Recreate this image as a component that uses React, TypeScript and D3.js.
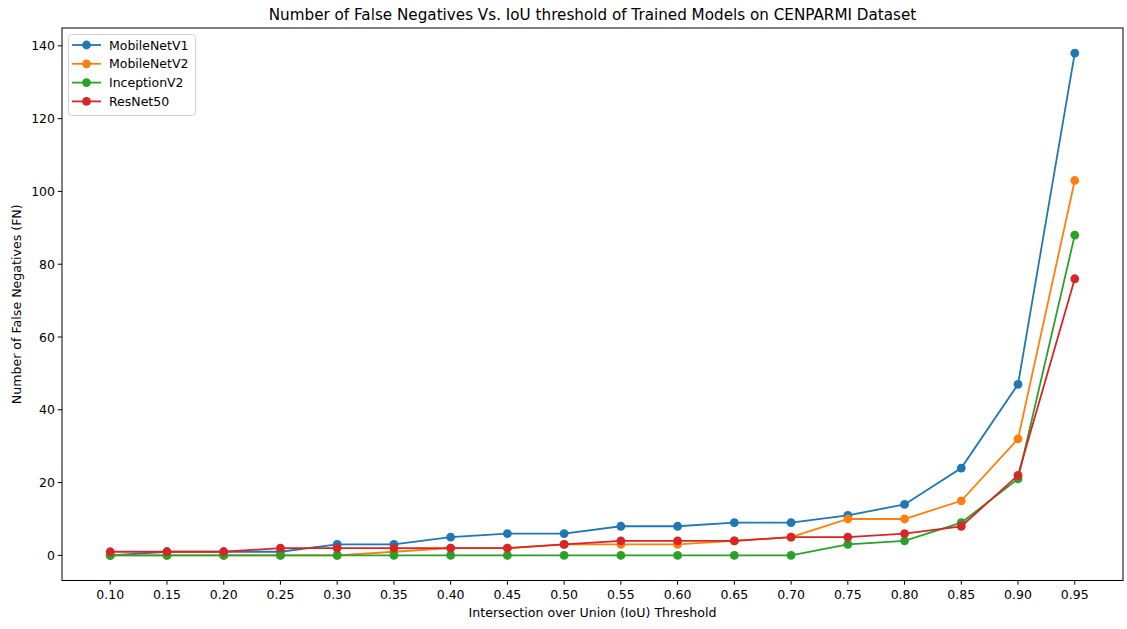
import React from "react";
import * as d3 from "d3";

const thresholds = [0.10, 0.15, 0.20, 0.25, 0.30, 0.35, 0.40, 0.45, 0.50, 0.55, 0.60, 0.65, 0.70, 0.75, 0.80, 0.85, 0.90, 0.95];
const mobileNetV1 = [0, 1, 1, 1, 3, 3, 5, 6, 6, 8, 8, 9, 9, 11, 14, 24, 47, 138];
const mobileNetV2 = [0, 0, 0, 0, 0, 1, 2, 2, 3, 3, 3, 4, 5, 10, 10, 15, 32, 103];
const inceptionV2 = [0, 0, 0, 0, 0, 0, 0, 0, 0, 0, 0, 0, 0, 3, 4, 9, 21, 88];
const resNet50 = [1, 1, 1, 2, 2, 2, 2, 2, 3, 4, 4, 4, 5, 5, 6, 8, 22, 76];
const seriesNames = ["MobileNetV1", "MobileNetV2", "InceptionV2", "ResNet50"];
const seriesColors = ["#1f77b4", "#ff7f0e", "#2ca02c", "#d62728"];
const yTicks = [0, 20, 40, 60, 80, 100, 120, 140];

const W = 1127, H = 629;
const L = 62, R = 1123, T = 28, B = 580.5;
const FONT = "'DejaVu Sans', sans-serif";
const TICK_FS = 12.5;
const LABEL_FS = 12.6;

export default function App() {
  const series = [mobileNetV1, mobileNetV2, inceptionV2, resNet50];
  const x = d3.scaleLinear().domain([0.0575, 0.9925]).range([L, R]);
  const y = d3.scaleLinear().domain([-6.9, 144.9]).range([B, T]);
  const line = d3.line<number>().x((_, i) => x(thresholds[i])).y((d) => y(d));

  return (
    <svg width={W} height={H} style={{ position: "absolute", left: 0, top: 0, background: "#fff" }} fontFamily={FONT}>
      <rect x={0} y={0} width={W} height={H} fill="#fff" />
      <text x={(L + R) / 2} y={20} textAnchor="middle" fontSize={15.2} fill="#000">
        Number of False Negatives Vs. IoU threshold of Trained Models on CENPARMI Dataset
      </text>
      {series.map((s, k) => (
        <g key={k}>
          <path d={line(s) || ""} fill="none" stroke={seriesColors[k]} strokeWidth={1.8} />
          {s.map((v, i) => (
            <circle key={i} cx={x(thresholds[i])} cy={y(v)} r={4.4} fill={seriesColors[k]} />
          ))}
        </g>
      ))}
      <rect x={L} y={T} width={R - L} height={B - T} fill="none" stroke="#000" strokeWidth={1} />
      {thresholds.map((t, i) => (
        <g key={i}>
          <line x1={x(t)} x2={x(t)} y1={B} y2={B + 4.2} stroke="#000" strokeWidth={1} />
          <text x={x(t)} y={B + 18.5} textAnchor="middle" fontSize={TICK_FS} fill="#000">{t.toFixed(2)}</text>
        </g>
      ))}
      {yTicks.map((t, i) => (
        <g key={i}>
          <line x1={L - 4.2} x2={L} y1={y(t)} y2={y(t)} stroke="#000" strokeWidth={1} />
          <text x={L - 7} y={y(t) + 4.5} textAnchor="end" fontSize={TICK_FS} fill="#000">{t}</text>
        </g>
      ))}
      <text x={(L + R) / 2} y={617} textAnchor="middle" fontSize={LABEL_FS} fill="#000">
        Intersection over Union (IoU) Threshold
      </text>
      <text transform={`translate(21, ${(T + B) / 2}) rotate(-90)`} textAnchor="middle" fontSize={LABEL_FS} fill="#000">
        Number of False Negatives (FN)
      </text>
      <g>
        <rect x={68.5} y={34.5} width={127} height={81} rx={3} fill="#fff" stroke="#ccc" strokeWidth={1} opacity={0.9} />
        {seriesNames.map((n, k) => {
          const yy = 45 + k * 18.8;
          return (
            <g key={k}>
              <line x1={72} x2={101} y1={yy} y2={yy} stroke={seriesColors[k]} strokeWidth={1.8} />
              <circle cx={86.5} cy={yy} r={4.4} fill={seriesColors[k]} />
              <text x={109} y={yy + 4.5} fontSize={TICK_FS} fill="#000">{n}</text>
            </g>
          );
        })}
      </g>
    </svg>
  );
}
